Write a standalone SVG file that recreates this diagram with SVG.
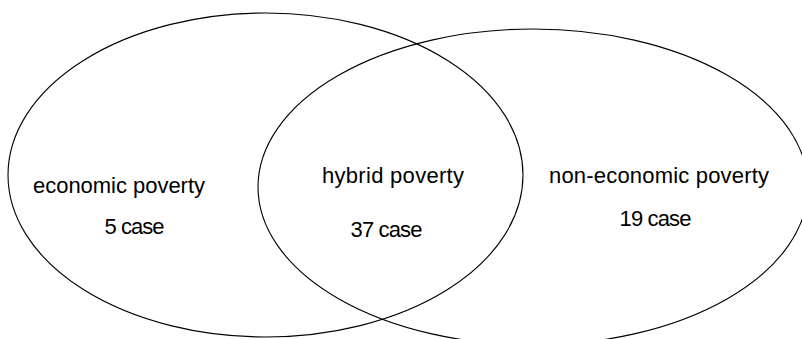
<svg xmlns="http://www.w3.org/2000/svg" width="802" height="339" viewBox="0 0 802 339">
<style>
.set{fill:none;stroke:#000;stroke-width:1.1}
.lbl{font-family:"Liberation Sans",Arial,sans-serif;font-size:22px;fill:#000;text-anchor:middle}
</style>
<rect width="802" height="339" fill="#fff"/>
<g id="economic">
<ellipse class="set" cx="265.5" cy="175" rx="257.5" ry="162"/>
<text class="lbl" x="119" y="193" textLength="172" lengthAdjust="spacing">economic poverty</text>
<text class="lbl" x="134.5" y="234" textLength="60" lengthAdjust="spacing">5 case</text>
</g>
<g id="noneconomic">
<ellipse class="set" cx="533" cy="187" rx="275" ry="158"/>
<text class="lbl" x="659" y="183" textLength="220" lengthAdjust="spacing">non-economic poverty</text>
<text class="lbl" x="655.5" y="226" textLength="72" lengthAdjust="spacing">19 case</text>
</g>
<g id="hybrid">
<text class="lbl" x="393" y="183" textLength="142" lengthAdjust="spacing">hybrid poverty</text>
<text class="lbl" x="386.5" y="237" textLength="72" lengthAdjust="spacing">37 case</text>
</g>
<g id="connectors"></g>
</svg>
